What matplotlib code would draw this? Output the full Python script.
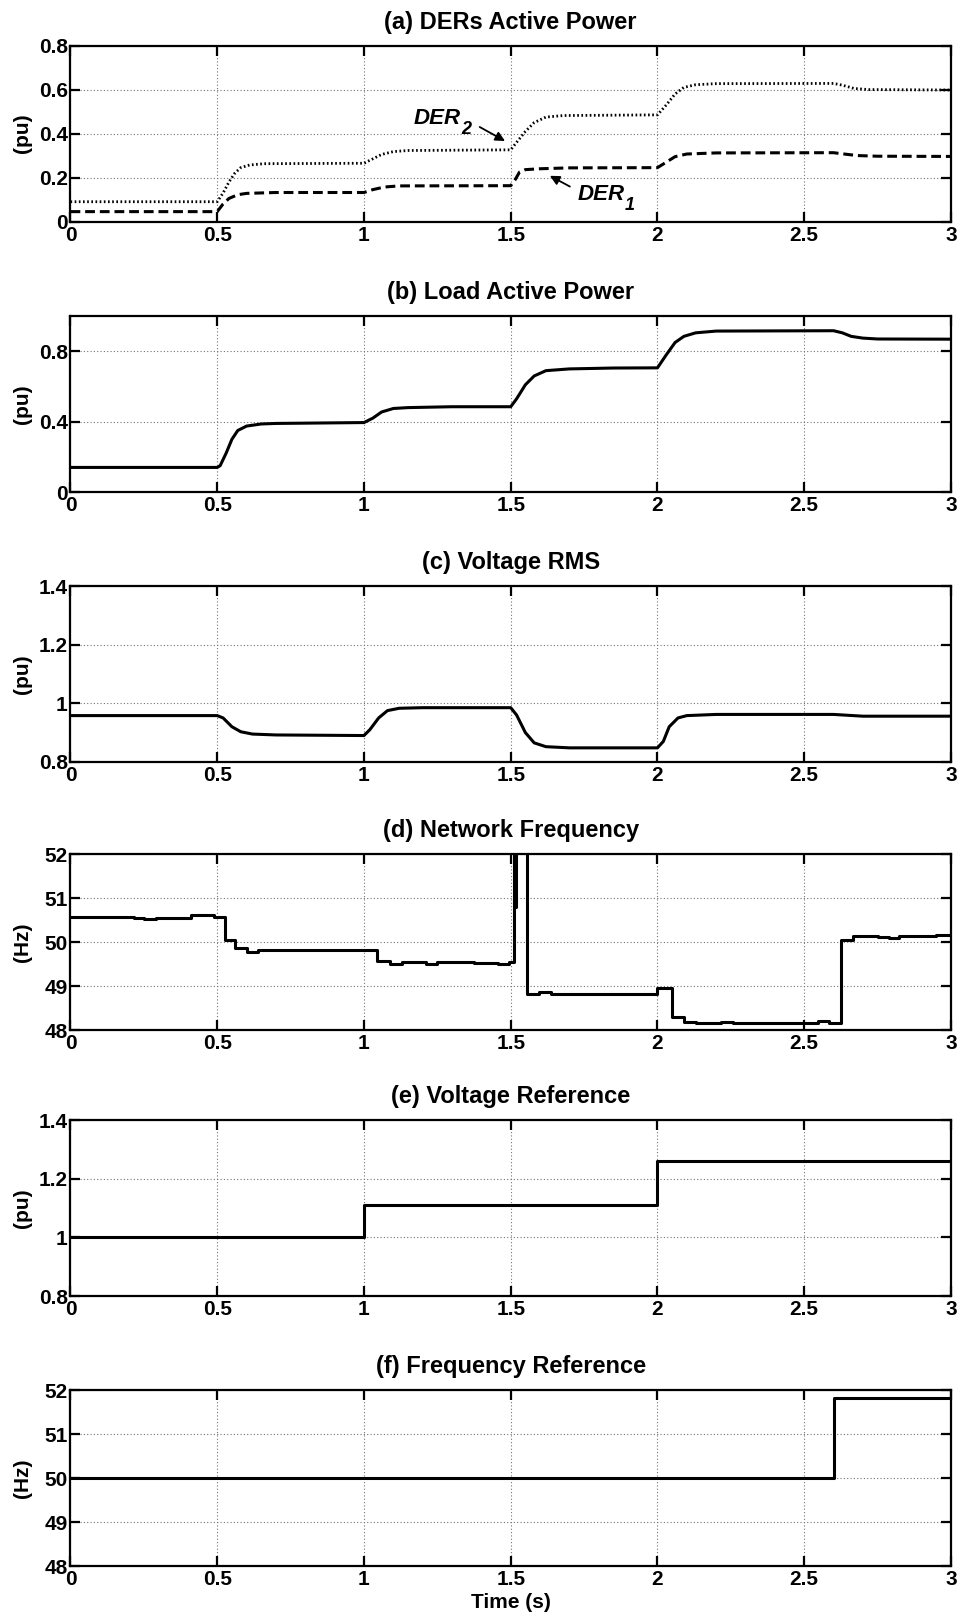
import matplotlib
matplotlib.use("Agg")
import matplotlib.pyplot as plt
from matplotlib.ticker import FuncFormatter

plt.rcParams['font.family'] = ['Liberation Sans', 'DejaVu Sans']
plt.rcParams['font.weight'] = 'bold'

# (a) DERs active power
der2_t = [0, 0.5, 0.52, 0.54, 0.56, 0.58, 0.61, 0.66, 1.0, 1.03, 1.06, 1.1, 1.15, 1.5,
          1.52, 1.55, 1.58, 1.62, 1.68, 2.0, 2.03, 2.06, 2.09, 2.13, 2.2, 2.6, 2.63,
          2.67, 2.72, 3.0]
der2_p = [0.09, 0.09, 0.13, 0.18, 0.22, 0.245, 0.257, 0.263, 0.265, 0.285, 0.305, 0.318,
          0.323, 0.326, 0.36, 0.41, 0.45, 0.475, 0.482, 0.485, 0.53, 0.58, 0.61, 0.622,
          0.627, 0.628, 0.62, 0.605, 0.6, 0.598]
der1_t = [0, 0.5, 0.52, 0.54, 0.57, 0.6, 0.7, 1.0, 1.03, 1.07, 1.12, 1.5, 1.515, 1.53,
          1.55, 1.6, 1.7, 2.0, 2.03, 2.06, 2.1, 2.2, 2.6, 2.63, 2.68, 2.75, 3.0]
der1_p = [0.045, 0.045, 0.08, 0.105, 0.122, 0.128, 0.132, 0.132, 0.145, 0.157, 0.162,
          0.163, 0.19, 0.225, 0.236, 0.24, 0.244, 0.245, 0.27, 0.295, 0.307, 0.312, 0.313,
          0.308, 0.3, 0.297, 0.296]

# (b) load active power
load_t = [0, 0.5, 0.51, 0.53, 0.55, 0.57, 0.6, 0.65, 0.7, 1.0, 1.03, 1.06, 1.1, 1.15,
          1.3, 1.5, 1.52, 1.55, 1.58, 1.62, 1.7, 1.85, 2.0, 2.03, 2.06, 2.09, 2.13, 2.2,
          2.6, 2.63, 2.66, 2.7, 2.75, 3.0]
load_p = [0.14, 0.14, 0.15, 0.22, 0.30, 0.35, 0.375, 0.387, 0.39, 0.395, 0.42, 0.455,
          0.475, 0.48, 0.485, 0.485, 0.53, 0.61, 0.66, 0.69, 0.70, 0.705, 0.706, 0.78,
          0.85, 0.885, 0.905, 0.915, 0.917, 0.905, 0.885, 0.875, 0.87, 0.869]

# (c) voltage rms
vrms_t = [0, 0.5, 0.52, 0.55, 0.58, 0.62, 0.7, 1.0, 1.02, 1.05, 1.08, 1.12, 1.2, 1.5,
          1.52, 1.55, 1.58, 1.62, 1.7, 2.0, 2.02, 2.04, 2.07, 2.1, 2.2, 2.6, 2.7, 3.0]
vrms_v = [0.958, 0.958, 0.95, 0.92, 0.903, 0.895, 0.892, 0.89, 0.91, 0.95, 0.975, 0.983,
          0.985, 0.985, 0.96, 0.9, 0.865, 0.852, 0.848, 0.848, 0.87, 0.92, 0.95, 0.958,
          0.962, 0.962, 0.956, 0.956]

# (d) network frequency (step samples)
freq_t = [0, 0.216, 0.25, 0.29, 0.41, 0.49, 0.525, 0.56, 0.60, 0.64, 0.80, 0.93, 0.99,
          1.046, 1.09, 1.13, 1.21, 1.25, 1.375, 1.455, 1.494, 1.511, 1.516, 1.519, 1.557,
          1.597, 1.637, 1.762, 1.80, 2.0, 2.048, 2.091, 2.131, 2.216, 2.256, 2.381, 2.466,
          2.546, 2.586, 2.625, 2.665, 2.704, 2.75, 2.79, 2.824, 2.95, 3.0]
freq_hz = [50.58, 50.55, 50.52, 50.55, 50.62, 50.58, 50.04, 49.86, 49.77, 49.81, 49.83,
           49.81, 49.83, 49.58, 49.5, 49.55, 49.5, 49.54, 49.52, 49.49, 49.55, 53.0, 50.8,
           53.0, 48.83, 48.87, 48.81, 48.82, 48.81, 48.96, 48.29, 48.19, 48.16, 48.18,
           48.17, 48.15, 48.17, 48.2, 48.17, 50.05, 50.13, 50.14, 50.12, 50.09, 50.13,
           50.15, 50.15]

# (e) voltage reference, (f) frequency reference
vref_t = [0, 1.0, 2.0, 3.0]
vref_v = [1.0, 1.11, 1.26, 1.26]
fref_t = [0, 2.6, 3.0]
fref_v = [50.0, 51.83, 51.83]

x_ticks = [0, 0.5, 1, 1.5, 2, 2.5, 3]

fig = plt.figure(figsize=(9.67, 16.17), dpi=100)
left, width, height = 0.0729, 0.9105, 0.1088
bottoms = [0.863, 0.6957, 0.5288, 0.363, 0.1985, 0.0315]

titles = ['(a) DERs Active Power', '(b) Load Active Power', '(c) Voltage RMS',
          '(d) Network Frequency', '(e) Voltage Reference', '(f) Frequency Reference']
ylabels = ['(pu)', '(pu)', '(pu)', '(Hz)', '(pu)', '(Hz)']
ylims = [(0, 0.8), (0, 1.0), (0.8, 1.4), (48, 52), (0.8, 1.4), (48, 52)]
yticks = [[0, 0.2, 0.4, 0.6, 0.8], [0, 0.4, 0.8], [0.8, 1, 1.2, 1.4],
          [48, 49, 50, 51, 52], [0.8, 1, 1.2, 1.4], [48, 49, 50, 51, 52]]

fmt = FuncFormatter(lambda v, p: '%g' % round(v, 6))

axes = []
for i in range(6):
    ax = fig.add_axes([left, bottoms[i], width, height])
    ax.set_xlim(0, 3)
    ax.set_ylim(*ylims[i])
    ax.set_xticks(x_ticks)
    ax.set_yticks(yticks[i])
    ax.xaxis.set_major_formatter(fmt)
    ax.yaxis.set_major_formatter(fmt)
    ax.tick_params(direction='in', top=True, right=True, length=7, width=1.6,
                   labelsize=15, pad=2)
    ax.tick_params(axis='x', pad=3)
    for s in ax.spines.values():
        s.set_linewidth(1.6)
    ax.grid(True, color='0.45', linestyle=(0, (1, 2)), linewidth=0.8)
    ax.set_title(titles[i], fontsize=17, fontweight='bold', pad=12)
    ax.set_ylabel(ylabels[i], fontsize=15, fontweight='bold', va='center')
    ax.yaxis.set_label_coords(-0.054, 0.5)
    axes.append(ax)


def der_label(ax, x, y, sub):
    t = ax.text(x, y, 'DER', fontsize=16, style='italic', weight='bold',
                ha='left', va='baseline')
    ax.annotate(sub, xy=(1, 0), xycoords=t, xytext=(0.5, -4),
                textcoords='offset points', fontsize=13, style='italic',
                weight='bold', ha='left', va='baseline')


ax = axes[0]
ax.plot(der2_t, der2_p, color='k', linestyle=(0, (0.6, 0.9)), linewidth=2)
ax.plot(der1_t, der1_p, color='k', linestyle=(0, (3.2, 1.6)), linewidth=2.2)
der_label(ax, 1.169, 0.444, '2')
ax.annotate('', xy=(1.489, 0.36), xytext=(1.386, 0.436),
            arrowprops=dict(arrowstyle='-|>', color='k', lw=1.3, mutation_scale=14))
der_label(ax, 1.727, 0.099, '1')
ax.annotate('', xy=(1.625, 0.214), xytext=(1.71, 0.153),
            arrowprops=dict(arrowstyle='-|>', color='k', lw=1.3, mutation_scale=14))

axes[1].plot(load_t, load_p, color='k', linewidth=2.2)
axes[2].plot(vrms_t, vrms_v, color='k', linewidth=2.2)
axes[3].plot(freq_t, freq_hz, color='k', linewidth=2.2, drawstyle='steps-post')
axes[4].plot(vref_t, vref_v, color='k', linewidth=2.2, drawstyle='steps-post')
axes[5].plot(fref_t, fref_v, color='k', linewidth=2.2, drawstyle='steps-post')

axes[5].set_xlabel('Time (s)', fontsize=15, fontweight='bold', labelpad=3)

fig.savefig('out.png', dpi=100)
